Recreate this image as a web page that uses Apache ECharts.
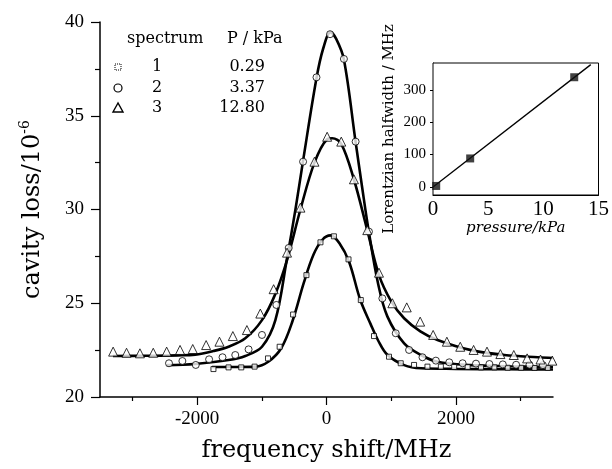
<!DOCTYPE html>
<html lang="en">
<head>
    <meta charset="UTF-8">
    <title>cavity loss spectra</title>
    <script src="https://cdn.jsdelivr.net/npm/echarts@6/dist/echarts.min.js"></script>
    <style>
        html, body { margin: 0; padding: 0; background: #fff; }
        #chart { width: 612px; height: 469px; }
    </style>
</head>
<body>
<div id="chart"></div>
<script>
// legend table
const spectrumIds = ['1', '2', '3'];
const pressureLabels = ['0.29', '3.37', '12.80'];

// measured points [frequency shift MHz, cavity loss 1e-6]
const points1 = [[-1747,21.49],[-1514,21.58],[-1317,21.58],[-1111,21.62],[-904,22.06],[-724,22.68],[-516,24.4],[-310,26.5],[-93,28.25],[114,28.57],[340,27.34],[530,25.17],[734,23.25],[966,22.15],[1147,21.8],[1353,21.71],[1560,21.62],[1767,21.62],[1973,21.6],[2181,21.6],[2387,21.58],[2594,21.58],[2800,21.56],[3007,21.56],[3214,21.55],[3420,21.55]];
const points2 = [[-2434,21.8],[-2227,21.92],[-2020,21.71],[-1814,22.01],[-1607,22.12],[-1410,22.24],[-1204,22.54],[-997,23.31],[-775,24.91],[-584,27.95],[-362,32.55],[-155,37.05],[55,39.35],[269,38.03],[450,33.62],[656,28.82],[863,25.26],[1070,23.4],[1276,22.51],[1483,22.12],[1690,21.94],[1897,21.85],[2103,21.8],[2310,21.78],[2517,21.76],[2724,21.74],[2930,21.72],[3137,21.72],[3344,21.7]];
const points3 = [[-3297,22.42],[-3090,22.36],[-2883,22.33],[-2677,22.36],[-2470,22.42],[-2263,22.51],[-2067,22.56],[-1860,22.77],[-1654,22.95],[-1447,23.25],[-1230,23.57],[-1023,24.45],[-817,25.75],[-610,27.7],[-403,30.1],[-186,32.55],[10,33.88],[228,33.62],[424,31.61],[630,28.9],[811,26.63],[1018,25.0],[1240,24.78],[1447,24.02],[1648,23.31],[1860,22.95],[2067,22.68],[2273,22.51],[2480,22.42],[2687,22.29],[2894,22.24],[3100,22.06],[3307,22.0],[3490,21.94]];

// fitted curves
const fit1 = [[-1770,21.6],[-1400,21.6],[-1100,21.62],[-900,21.88],[-700,22.6],[-530,24.0],[-350,26.1],[-200,27.6],[-60,28.4],[60,28.62],[200,28.2],[350,27.2],[520,25.2],[680,23.9],[800,23.0],[940,22.25],[1200,21.7],[1460,21.53],[2000,21.5],[2800,21.48],[3500,21.47]];
const fit2 = [[-2470,21.7],[-2030,21.76],[-1514,21.97],[-1255,22.19],[-997,22.68],[-790,24.1],[-610,27.4],[-480,30.0],[-362,32.6],[-155,37.0],[-50,38.6],[62,39.45],[150,39.1],[269,38.0],[450,33.6],[550,31.2],[650,28.9],[800,26.0],[940,24.3],[1200,22.86],[1460,22.24],[1715,21.88],[2230,21.7],[2800,21.64],[3500,21.6]];
const fit3 = [[-3300,22.19],[-2800,22.2],[-2300,22.22],[-2030,22.26],[-1750,22.45],[-1514,22.68],[-1255,23.13],[-997,24.1],[-790,25.5],[-610,27.3],[-403,30.0],[-186,32.5],[10,33.75],[88,33.8],[228,33.5],[424,31.6],[630,28.9],[811,26.5],[1000,25.1],[1199,24.2],[1450,23.5],[1715,23.04],[2232,22.5],[2748,22.24],[3265,22.12],[3500,22.08]];

// inset: halfwidth vs pressure
const insetPressure = [0.29, 3.37, 12.80];
const insetWidth = [3, 88, 339];
const insetFitP = [0, 14.3];
const insetFitW = [0, 378];

// main axis ticks
const xMajor = [-2000, 0, 2000];
const xMinor = [-3000, -1000, 1000, 3000];
const insetYTicks = [0, 100, 200, 300];

const serif = 'DejaVu Serif';
const times = 'Liberation Serif';
const plain = v => String(v);

var myChart = echarts.init(document.getElementById('chart'));

function fitSeries(data) {
    return {
        type: 'line', xAxisIndex: 0, yAxisIndex: 0,
        data: data, showSymbol: false, smooth: 0.35,
        lineStyle: { color: '#000', width: 2.6 }, z: 3
    };
}
function pointSeries(data, symbol, size) {
    return {
        type: 'scatter', xAxisIndex: 0, yAxisIndex: 0,
        data: data, symbol: symbol, symbolSize: size,
        itemStyle: { color: '#fff', borderColor: '#000', borderWidth: 1 }, z: 4
    };
}

// legend drawn as a small table
let legendItems = [
    { type: 'text', left: 127, top: 31, style: { text: 'spectrum', font: '16px "' + serif + '"', fill: '#000' } },
    { type: 'text', left: 227, top: 31, style: { text: 'P / kPa', font: '16px "' + serif + '"', fill: '#000' } }
];
const rowY = [67, 88, 108];
for (let i = 0; i < 3; i++) {
    legendItems.push({ type: 'text', x: 152, y: rowY[i], style: { text: spectrumIds[i], font: '16px "' + serif + '"', fill: '#000', align: 'left', verticalAlign: 'middle' } });
    legendItems.push({ type: 'text', x: 265, y: rowY[i], style: { text: pressureLabels[i], font: '16px "' + serif + '"', fill: '#000', align: 'right', verticalAlign: 'middle' } });
}
legendItems.push({ type: 'rect', shape: { x: 115, y: rowY[0] - 3, width: 6, height: 6 }, style: { fill: '#fff', stroke: '#000', lineWidth: 1, lineDash: [1, 1] } });
legendItems.push({ type: 'circle', shape: { cx: 118, cy: rowY[1], r: 4 }, style: { fill: '#fff', stroke: '#000', lineWidth: 1.2 } });
legendItems.push({ type: 'polygon', shape: { points: [[118, rowY[2] - 5], [113, rowY[2] + 4], [123, rowY[2] + 4]] }, style: { fill: '#fff', stroke: '#000', lineWidth: 1.4 } });

var option = {
    animation: false,
    backgroundColor: '#fff',
    grid: [
        { left: 100, top: 22, width: 453, height: 375 },
        { left: 433, top: 63, width: 169, height: 132, show: true, borderColor: '#000', borderWidth: 1, backgroundColor: '#fff', z: 5 }
    ],
    xAxis: [
        {
            type: 'value', gridIndex: 0, min: -3500, max: 3500, position: 'bottom',
            name: 'frequency shift/MHz', nameLocation: 'middle', nameGap: 42,
            nameTextStyle: { fontFamily: serif, fontSize: 24, color: '#000' },
            axisLine: { onZero: false, lineStyle: { color: '#000', width: 1.5 } },
            axisTick: { customValues: xMajor, length: 8, lineStyle: { color: '#000', width: 1.2 } },
            axisLabel: { customValues: xMajor, formatter: plain, margin: 13, fontFamily: times, fontSize: 19, color: '#000' },
            splitLine: { show: false }
        },
        {
            type: 'value', gridIndex: 0, min: -3500, max: 3500, position: 'bottom', offset: 0,
            axisLine: { show: false, onZero: false },
            axisTick: { customValues: xMinor, length: 4, lineStyle: { color: '#000', width: 1.2 } },
            axisLabel: { show: false },
            splitLine: { show: false }
        },
        {
            type: 'value', gridIndex: 1, min: 0, max: 15, interval: 5,
            name: 'pressure/kPa', nameLocation: 'middle', nameGap: 22,
            nameTextStyle: { fontFamily: serif, fontSize: 15, fontStyle: 'italic', color: '#000' },
            axisLine: { onZero: false, lineStyle: { color: '#000', width: 1 } },
            axisTick: { length: 3, inside: true, lineStyle: { color: '#000' } },
            axisLabel: { margin: 4, formatter: plain, fontFamily: times, fontSize: 21, color: '#000' },
            splitLine: { show: false }
        }
    ],
    yAxis: [
        {
            type: 'value', gridIndex: 0, min: 20, max: 40, interval: 5,
            name: '{a|cavity loss/10}{b|-6}', nameLocation: 'middle', nameGap: 52,
            nameTextStyle: {
                color: '#000',
                rich: {
                    a: { fontFamily: serif, fontSize: 24, lineHeight: 30, color: '#000' },
                    b: { fontFamily: serif, fontSize: 14, lineHeight: 14, color: '#000', verticalAlign: 'top', padding: [0, 0, 16, 0] }
                }
            },
            axisLine: { show: true, onZero: false, lineStyle: { color: '#000', width: 1.5 } },
            axisTick: { show: true, length: 9, lineStyle: { color: '#000', width: 1.2 } },
            minorTick: { show: true, splitNumber: 2, length: 5, lineStyle: { color: '#000', width: 1.2 } },
            axisLabel: { margin: 16, fontFamily: times, fontSize: 19, color: '#000' },
            splitLine: { show: false }
        },
        {
            type: 'value', gridIndex: 1, min: -25, max: 383,
            name: 'Lorentzian halfwidth / MHz', nameLocation: 'middle', nameGap: 36,
            nameTextStyle: { fontFamily: serif, fontSize: 15, color: '#000' },
            axisLine: { show: true, onZero: false, lineStyle: { color: '#000', width: 1 } },
            axisTick: { show: true, customValues: insetYTicks, length: 3, lineStyle: { color: '#000' } },
            axisLabel: { customValues: insetYTicks, formatter: plain, margin: 7, fontFamily: times, fontSize: 15, color: '#000' },
            splitLine: { show: false }
        }
    ],
    graphic: legendItems,
    series: [
        fitSeries(fit1),
        fitSeries(fit2),
        fitSeries(fit3),
        pointSeries(points1, 'rect', 5),
        pointSeries(points2, 'circle', 7),
        pointSeries(points3, 'triangle', 9),
        {
            type: 'line', xAxisIndex: 2, yAxisIndex: 1,
            data: insetFitP.map((p, i) => [p, insetFitW[i]]),
            showSymbol: false, lineStyle: { color: '#000', width: 1.3 }, z: 6
        },
        {
            type: 'scatter', xAxisIndex: 2, yAxisIndex: 1,
            data: insetPressure.map((p, i) => [p, insetWidth[i]]),
            symbol: 'rect', symbolSize: 8, itemStyle: { color: '#111' }, z: 7
        }
    ]
};

myChart.setOption(option);
</script>
</body>
</html>
